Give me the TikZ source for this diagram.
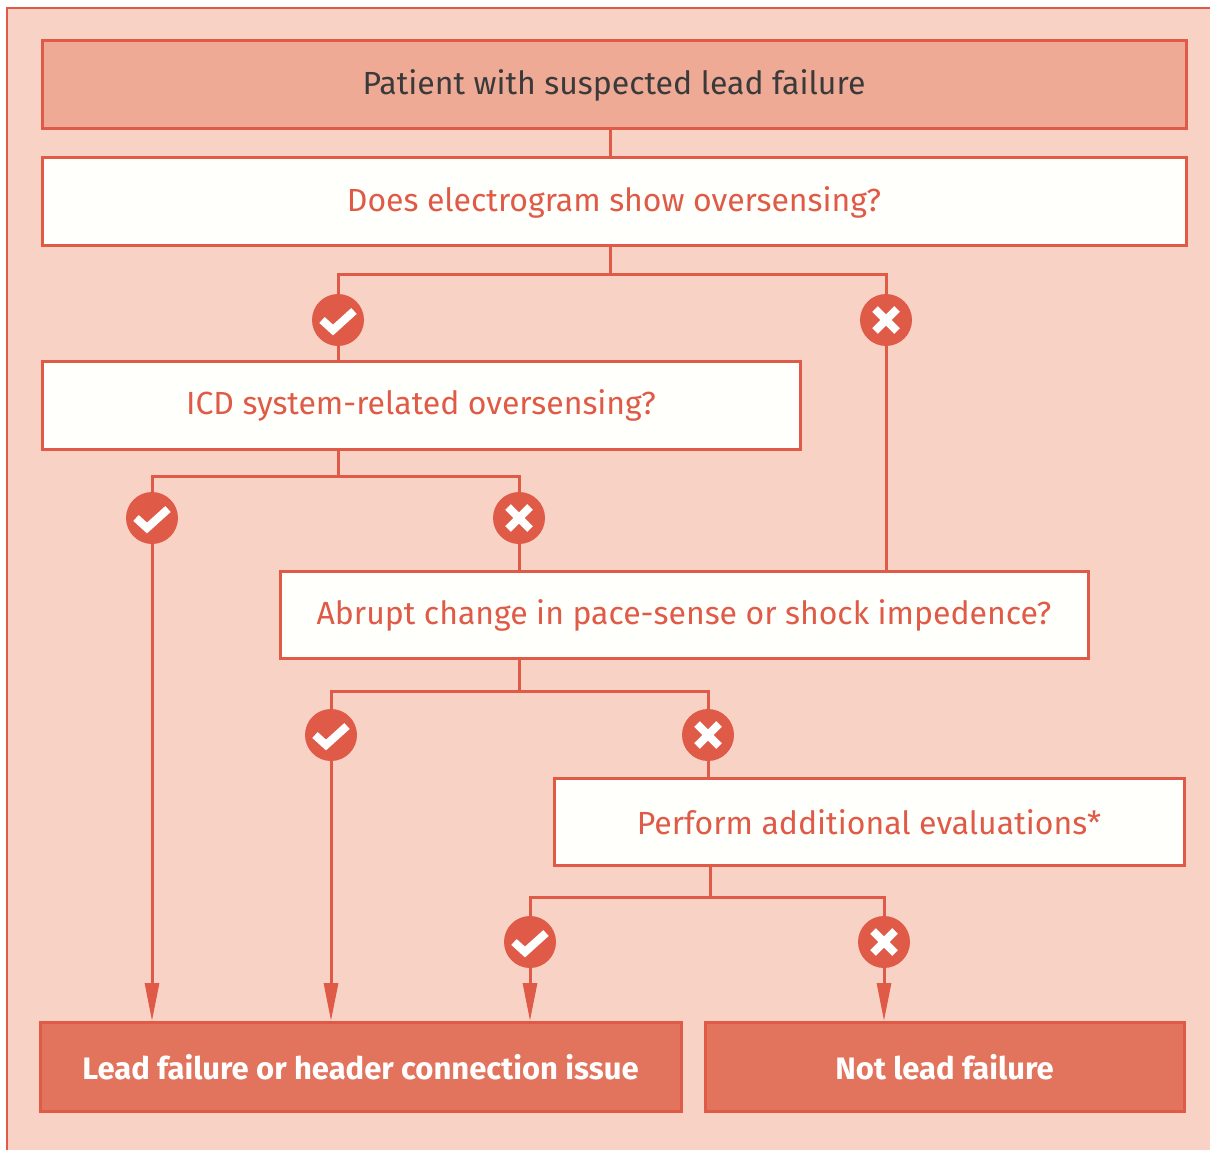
\documentclass[tikz,border=0pt]{standalone}
\usepackage{fontspec}
\setmainfont{Fira Sans}
\usetikzlibrary{arrows.meta}
\pgfdeclarelayer{bg}
\pgfsetlayers{bg,main}
\definecolor{bgpink}{HTML}{F8D3C5}
\definecolor{linered}{HTML}{E05A48}
\definecolor{topfill}{HTML}{EEAA94}
\definecolor{endfill}{HTML}{E2745E}
\definecolor{qfill}{HTML}{FFFFFB}
\definecolor{darktext}{HTML}{3A3A3A}
\tikzset{
    box/.style={draw=linered, line width=1.5pt, inner sep=0pt, minimum height=44pt,
        font=\fontsize{16}{19}\selectfont},
    startbox/.style={box, fill=topfill, text=darktext},
    askbox/.style={box, fill=qfill, text=linered},
    endbox/.style={box, fill=endfill, text=white, font=\fontsize{15.5}{18}\selectfont\bfseries},
    yesmark/.style={circle, fill=linered, minimum size=26pt, inner sep=0pt,
        path picture={\draw[white, line width=4pt]
            ([shift={(-8pt,0pt)}]path picture bounding box.center) --
            ([shift={(-2.5pt,-5pt)}]path picture bounding box.center) --
            ([shift={(8pt,4.5pt)}]path picture bounding box.center);}},
    nomark/.style={circle, fill=linered, minimum size=26pt, inner sep=0pt,
        path picture={\draw[white, line width=4pt]
            ([shift={(-5.5pt,-5.5pt)}]path picture bounding box.center) --
            ([shift={(5.5pt,5.5pt)}]path picture bounding box.center)
            ([shift={(-5.5pt,5.5pt)}]path picture bounding box.center) --
            ([shift={(5.5pt,-5.5pt)}]path picture bounding box.center);}},
    link/.style={draw=linered, line width=1.5pt},
    tolink/.style={link, -{Triangle[length=19pt,width=7pt]}}
}
\begin{document}
\begin{tikzpicture}[x=0.5pt, y=-0.5pt]
    \useasboundingbox (0,0) rectangle (1210,1150);

    \node (start) [startbox, minimum width=572pt] at (614,85) {Patient with suspected lead failure};
    \node (q1) [askbox, minimum width=572pt] at (614,202) {Does electrogram show oversensing?};
    \node (yes1) [yesmark] at (338,320) {};
    \node (no1) [nomark] at (886,320) {};
    \node (q2) [askbox, minimum width=379pt] at (421,405) {ICD system-related oversensing?};
    \node (yes2) [yesmark] at (152,518) {};
    \node (no2) [nomark] at (519,518) {};
    \node (q3) [askbox, minimum width=404pt, minimum height=43.5pt] at (684,615) {Abrupt change in pace-sense or shock impedence?};
    \node (yes3) [yesmark] at (331,735) {};
    \node (no3) [nomark] at (708,735) {};
    \node (q4) [askbox, minimum width=315pt, minimum height=43.5pt] at (869,822) {Perform additional evaluations*};
    \node (yes4) [yesmark] at (530,942) {};
    \node (no4) [nomark] at (884,942) {};
    \node (lead) [endbox, minimum width=320.5pt, minimum height=44.5pt] at (360.5,1067) {Lead failure or header connection issue};
    \node (notlead) [endbox, minimum width=239.5pt, minimum height=44.5pt] at (944.5,1067) {Not lead failure};

    \coordinate (j1) at (610,275);
    \coordinate (j2) at (338,476);
    \coordinate (j3) at (519,691);
    \coordinate (j4) at (710,897);

    \begin{pgfonlayer}{bg}
        \fill[bgpink] (7,8) rectangle (1215,1155);
        \draw[linered, line width=1pt] (7,1155) -- (7,8) -- (1215,8);

        \draw[link] (start.south -| j1) -- (q1.north -| j1);
        \draw[link] (q1.south -| j1) -- (j1) -| (yes1);
        \draw[link] (j1) -| (no1);
        \draw[link] (yes1) -- (yes1 |- q2.north);
        \draw[link] (no1) -- (no1 |- q3.north);

        \draw[link] (q2.south -| j2) -- (j2) -| (yes2);
        \draw[link] (j2) -| (no2);
        \draw[tolink] (yes2) -- (yes2 |- lead.north);
        \draw[link] (no2) -- (no2 |- q3.north);

        \draw[link] (q3.south -| j3) -- (j3) -| (yes3);
        \draw[link] (j3) -| (no3);
        \draw[tolink] (yes3) -- (yes3 |- lead.north);
        \draw[link] (no3) -- (no3 |- q4.north);

        \draw[link] (q4.south -| j4) -- (j4) -| (yes4);
        \draw[link] (j4) -| (no4);
        \draw[tolink] (yes4) -- (yes4 |- lead.north);
        \draw[tolink] (no4) -- (no4 |- notlead.north);
    \end{pgfonlayer}
\end{tikzpicture}
\end{document}
